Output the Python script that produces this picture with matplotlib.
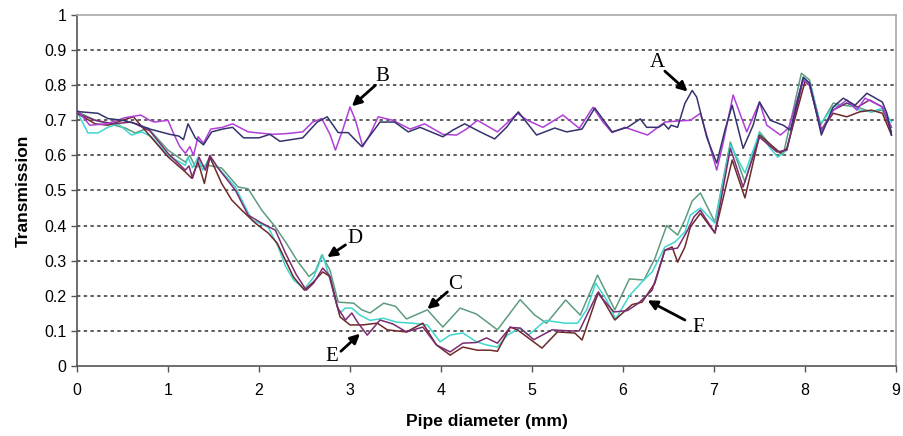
import matplotlib
matplotlib.use("Agg")
import matplotlib.pyplot as plt

# ---------------- data ----------------
a_x = [0, 0.23, 0.34, 0.5, 0.65, 0.8, 1.02, 1.12, 1.17, 1.22, 1.3, 1.39, 1.48, 1.6, 1.71, 1.83,
       2.0, 2.12, 2.23, 2.48, 2.64, 2.75, 2.87, 2.98, 3.13, 3.33, 3.49, 3.64, 3.77, 4.02, 4.13,
       4.26, 4.43, 4.59, 4.72, 4.85, 5.05, 5.25, 5.38, 5.55, 5.69, 5.88, 6.05, 6.19, 6.26, 6.39,
       6.45, 6.5, 6.53, 6.6, 6.68, 6.76, 6.81, 6.92, 7.03, 7.12, 7.2, 7.32, 7.43, 7.5, 7.62,
       7.76, 7.84, 7.98, 8.05, 8.18, 8.31, 8.42, 8.55, 8.68, 8.85, 8.9, 8.95]
a_y = [0.725, 0.72, 0.705, 0.70, 0.69, 0.675, 0.66, 0.655, 0.645, 0.69, 0.65, 0.63, 0.667, 0.675,
       0.68, 0.65, 0.65, 0.66, 0.64, 0.65, 0.695, 0.71, 0.665, 0.665, 0.625, 0.695, 0.695, 0.667,
       0.68, 0.653, 0.672, 0.69, 0.667, 0.647, 0.68, 0.724, 0.658, 0.678, 0.667, 0.675, 0.735,
       0.667, 0.68, 0.704, 0.68, 0.68, 0.69, 0.675, 0.686, 0.68, 0.748, 0.785, 0.766, 0.652,
       0.578, 0.672, 0.743, 0.62, 0.686, 0.752, 0.70, 0.686, 0.672, 0.823, 0.806, 0.658, 0.738,
       0.763, 0.743, 0.777, 0.752, 0.72, 0.658]

b_x = [0, 0.14, 0.33, 0.52, 0.7, 0.8, 0.85, 1.0, 1.06, 1.13, 1.19, 1.24, 1.28, 1.33, 1.39, 1.47,
       1.6, 1.71, 1.88, 2.15, 2.3, 2.48, 2.59, 2.69, 2.78, 2.84, 2.92, 3.0, 3.06, 3.14, 3.22,
       3.31, 3.47, 3.66, 3.82, 4.02, 4.17, 4.28, 4.40, 4.62, 4.84, 4.95, 5.12, 5.34, 5.52, 5.67,
       5.78, 5.88, 6.02, 6.27, 6.46, 6.6, 6.74, 6.85, 6.94, 7.03, 7.10, 7.21, 7.36, 7.5, 7.58,
       7.73, 7.82, 7.98, 8.05, 8.18, 8.31, 8.46, 8.57, 8.66, 8.85, 8.95]
b_y = [0.73, 0.686, 0.69, 0.707, 0.715, 0.70, 0.695, 0.70, 0.663, 0.625, 0.606, 0.625, 0.60,
       0.653, 0.635, 0.675, 0.68, 0.69, 0.667, 0.66, 0.662, 0.667, 0.695, 0.705, 0.66, 0.615,
       0.673, 0.738, 0.70, 0.625, 0.66, 0.71, 0.70, 0.675, 0.69, 0.66, 0.658, 0.675, 0.70, 0.667,
       0.72, 0.70, 0.68, 0.715, 0.677, 0.737, 0.695, 0.665, 0.68, 0.658, 0.695, 0.698, 0.70,
       0.72, 0.64, 0.558, 0.635, 0.772, 0.667, 0.752, 0.686, 0.658, 0.678, 0.815, 0.80, 0.667,
       0.729, 0.758, 0.729, 0.763, 0.738, 0.68]

c_x = [0, 0.2, 0.53, 0.64, 0.78, 1.0, 1.19, 1.24, 1.3, 1.44, 1.59, 1.77, 1.88, 2.03, 2.18, 2.3,
       2.42, 2.55, 2.62, 2.69, 2.78, 2.87, 3.04, 3.13, 3.22, 3.37, 3.5, 3.62, 3.85, 4.02, 4.21,
       4.39, 4.62, 4.87, 5.03, 5.16, 5.37, 5.53, 5.72, 5.91, 6.07, 6.23, 6.35, 6.48, 6.6, 6.68,
       6.76, 6.85, 7.01, 7.18, 7.34, 7.5, 7.65, 7.76, 7.96, 8.05, 8.17, 8.31, 8.42, 8.57, 8.73,
       8.85, 8.95]
c_y = [0.725, 0.70, 0.678, 0.664, 0.678, 0.615, 0.581, 0.60, 0.567, 0.572, 0.564, 0.51, 0.505,
       0.444, 0.396, 0.35, 0.30, 0.255, 0.27, 0.316, 0.273, 0.182, 0.179, 0.16, 0.151, 0.179,
       0.17, 0.134, 0.16, 0.111, 0.165, 0.148, 0.103, 0.189, 0.145, 0.122, 0.188, 0.145, 0.259,
       0.16, 0.248, 0.245, 0.306, 0.40, 0.373, 0.416, 0.47, 0.493, 0.41, 0.638, 0.524, 0.667,
       0.62, 0.601, 0.834, 0.815, 0.686, 0.749, 0.743, 0.738, 0.724, 0.729, 0.68]

d_x = [0, 0.12, 0.23, 0.34, 0.45, 0.6, 0.71, 0.82, 1.0, 1.19, 1.22, 1.27, 1.33, 1.38, 1.46, 1.55,
       1.74, 1.92, 2.1, 2.21, 2.29, 2.38, 2.5, 2.6, 2.7, 2.8, 2.88, 2.95, 3.02, 3.11, 3.22, 3.37,
       3.51, 3.68, 3.85, 3.99, 4.1, 4.24, 4.39, 4.5, 4.62, 4.73, 4.87, 4.96, 5.15, 5.36, 5.5, 5.6,
       5.7, 5.82, 5.92, 6.07, 6.21, 6.32, 6.46, 6.57, 6.68, 6.74, 6.85, 7.01, 7.18, 7.34, 7.5,
       7.62, 7.7, 7.8, 7.98, 8.05, 8.17, 8.31, 8.46, 8.6, 8.73, 8.85, 8.95]
d_y = [0.725, 0.664, 0.664, 0.68, 0.69, 0.658, 0.667, 0.653, 0.60, 0.572, 0.595, 0.565, 0.595,
       0.558, 0.595, 0.565, 0.51, 0.416, 0.396, 0.34, 0.285, 0.245, 0.22, 0.253, 0.316, 0.23,
       0.15, 0.165, 0.165, 0.145, 0.13, 0.136, 0.125, 0.122, 0.117, 0.069, 0.088, 0.094, 0.069,
       0.06, 0.054, 0.088, 0.108, 0.088, 0.13, 0.122, 0.122, 0.16, 0.236, 0.188, 0.134, 0.2,
       0.24, 0.268, 0.339, 0.353, 0.382, 0.43, 0.45, 0.407, 0.63, 0.55, 0.664, 0.62, 0.595, 0.615,
       0.82, 0.806, 0.69, 0.738, 0.749, 0.729, 0.724, 0.735, 0.695]

e_x = [0, 0.2, 0.4, 0.6, 0.8, 1.0, 1.19, 1.23, 1.27, 1.34, 1.41, 1.46, 1.55, 1.74, 1.88, 2.03,
       2.18, 2.29, 2.41, 2.52, 2.6, 2.7, 2.77, 2.86, 2.95, 3.02, 3.09, 3.19, 3.33, 3.47, 3.62,
       3.8, 3.95, 4.1, 4.24, 4.39, 4.5, 4.62, 4.76, 4.87, 5.02, 5.22, 5.41, 5.52, 5.72, 5.9, 6.05,
       6.17, 6.32, 6.46, 6.6, 6.71, 6.78, 6.85, 7.01, 7.18, 7.32, 7.5, 7.69, 7.8, 7.98, 8.05,
       8.18, 8.31, 8.46, 8.58, 8.71, 8.85, 8.95]
e_y = [0.72, 0.70, 0.69, 0.695, 0.67, 0.606, 0.558, 0.57, 0.535, 0.595, 0.558, 0.60, 0.564,
       0.501, 0.43, 0.407, 0.387, 0.322, 0.26, 0.216, 0.236, 0.279, 0.259, 0.168, 0.131, 0.151,
       0.122, 0.088, 0.131, 0.12, 0.097, 0.111, 0.06, 0.04, 0.065, 0.067, 0.08, 0.065, 0.11,
       0.108, 0.075, 0.103, 0.1, 0.1, 0.208, 0.154, 0.158, 0.179, 0.216, 0.33, 0.336, 0.387,
       0.425, 0.444, 0.379, 0.62, 0.51, 0.652, 0.61, 0.615, 0.815, 0.80, 0.672, 0.729, 0.749,
       0.738, 0.758, 0.738, 0.667]

f_x = [0, 0.2, 0.34, 0.5, 0.62, 0.82, 1.0, 1.19, 1.26, 1.33, 1.4, 1.46, 1.59, 1.7, 1.81, 1.96,
       2.1, 2.2, 2.38, 2.5, 2.6, 2.7, 2.78, 2.89, 3.0, 3.14, 3.3, 3.41, 3.62, 3.8, 3.95, 4.1,
       4.24, 4.4, 4.54, 4.62, 4.76, 4.84, 5.11, 5.28, 5.47, 5.55, 5.73, 5.91, 6.1, 6.21, 6.35,
       6.46, 6.54, 6.6, 6.68, 6.74, 6.85, 7.01, 7.2, 7.34, 7.5, 7.73, 7.8, 8.0, 8.05, 8.18, 8.31,
       8.46, 8.6, 8.73, 8.85, 8.95]
f_y = [0.72, 0.69, 0.686, 0.70, 0.71, 0.65, 0.596, 0.553, 0.535, 0.581, 0.52, 0.595, 0.52,
       0.473, 0.444, 0.407, 0.379, 0.35, 0.253, 0.216, 0.24, 0.268, 0.255, 0.14, 0.117, 0.117,
       0.122, 0.103, 0.097, 0.122, 0.06, 0.031, 0.054, 0.045, 0.045, 0.042, 0.111, 0.103, 0.051,
       0.097, 0.094, 0.074, 0.211, 0.131, 0.175, 0.182, 0.236, 0.33, 0.339, 0.296, 0.339, 0.396,
       0.435, 0.379, 0.587, 0.479, 0.658, 0.607, 0.62, 0.81, 0.80, 0.672, 0.72, 0.71, 0.724,
       0.729, 0.72, 0.658]

labels = ["A", "B", "C", "D", "E", "F"]
label_pos = [(6.38, 0.866), (3.36, 0.825), (4.15, 0.233), (3.05, 0.362), (2.80, 0.026), (6.83, 0.111)]
arrow_start = [(6.46, 0.84), (3.28, 0.80), (4.07, 0.211), (2.95, 0.345), (2.90, 0.042), (6.68, 0.131)]
arrow_tip = [(6.71, 0.782), (3.02, 0.740), (3.85, 0.162), (2.75, 0.31), (3.11, 0.092), (6.27, 0.187)]

x_ticks = [0, 1, 2, 3, 4, 5, 6, 7, 8, 9]
y_ticks = [0, 0.1, 0.2, 0.3, 0.4, 0.5, 0.6, 0.7, 0.8, 0.9, 1]
y_tick_labels = ["0", "0.1", "0.2", "0.3", "0.4", "0.5", "0.6", "0.7", "0.8", "0.9", "1"]

# ---------------- figure ----------------
fig = plt.figure(figsize=(9.04, 4.36), dpi=100)
ax = fig.add_axes([77 / 904, 70 / 436, 819 / 904, 351 / 436])

for yv in y_ticks[1:-1]:
    ax.axhline(yv, color="#333333", lw=1.1, ls=(0, (2.2, 2.2)), zorder=1)

series = [
    (c_x, c_y, "#5e9c7e"),
    (d_x, d_y, "#3ed6d0"),
    (f_x, f_y, "#6e2a2a"),
    (e_x, e_y, "#7a2b72"),
    (b_x, b_y, "#b03fd8"),
    (a_x, a_y, "#33336e"),
]
for xs, ys, col in series:
    ax.plot(xs, ys, color=col, lw=1.1, zorder=3)

for lab, pos, start, tip in zip(labels, label_pos, arrow_start, arrow_tip):
    ax.text(pos[0], pos[1], lab, ha="center", va="center", fontsize=15,
            family="Liberation Serif", color="black", zorder=5)
    ax.annotate("", xy=tip, xytext=start, zorder=5,
                arrowprops=dict(arrowstyle="-|>", color="black", lw=2.0,
                                mutation_scale=14, shrinkA=0, shrinkB=0))

ax.set_xlim(0, 9)
ax.set_ylim(0, 1)
ax.set_xticks(x_ticks)
ax.set_xticklabels([str(v) for v in x_ticks])
ax.set_yticks(y_ticks)
ax.set_yticklabels(y_tick_labels)
ax.tick_params(axis="both", direction="out", length=4, width=1, color="#555555",
               labelsize=11.5, labelcolor="black")
ax.tick_params(axis="x", pad=8)
for lab in ax.get_xticklabels() + ax.get_yticklabels():
    lab.set_family("Liberation Sans")

for side in ["left", "bottom"]:
    ax.spines[side].set_color("#555555")
    ax.spines[side].set_linewidth(1.2)
for side in ["top", "right"]:
    ax.spines[side].set_color("#a8a8a8")
    ax.spines[side].set_linewidth(1.2)

ax.set_xlabel("Pipe diameter (mm)", fontsize=12.5, fontweight="bold",
              family="Liberation Sans", labelpad=12)
ax.set_ylabel("Transmission", fontsize=12.5, fontweight="bold",
              family="Liberation Sans", labelpad=10)

fig.savefig("out.png", dpi=100)
